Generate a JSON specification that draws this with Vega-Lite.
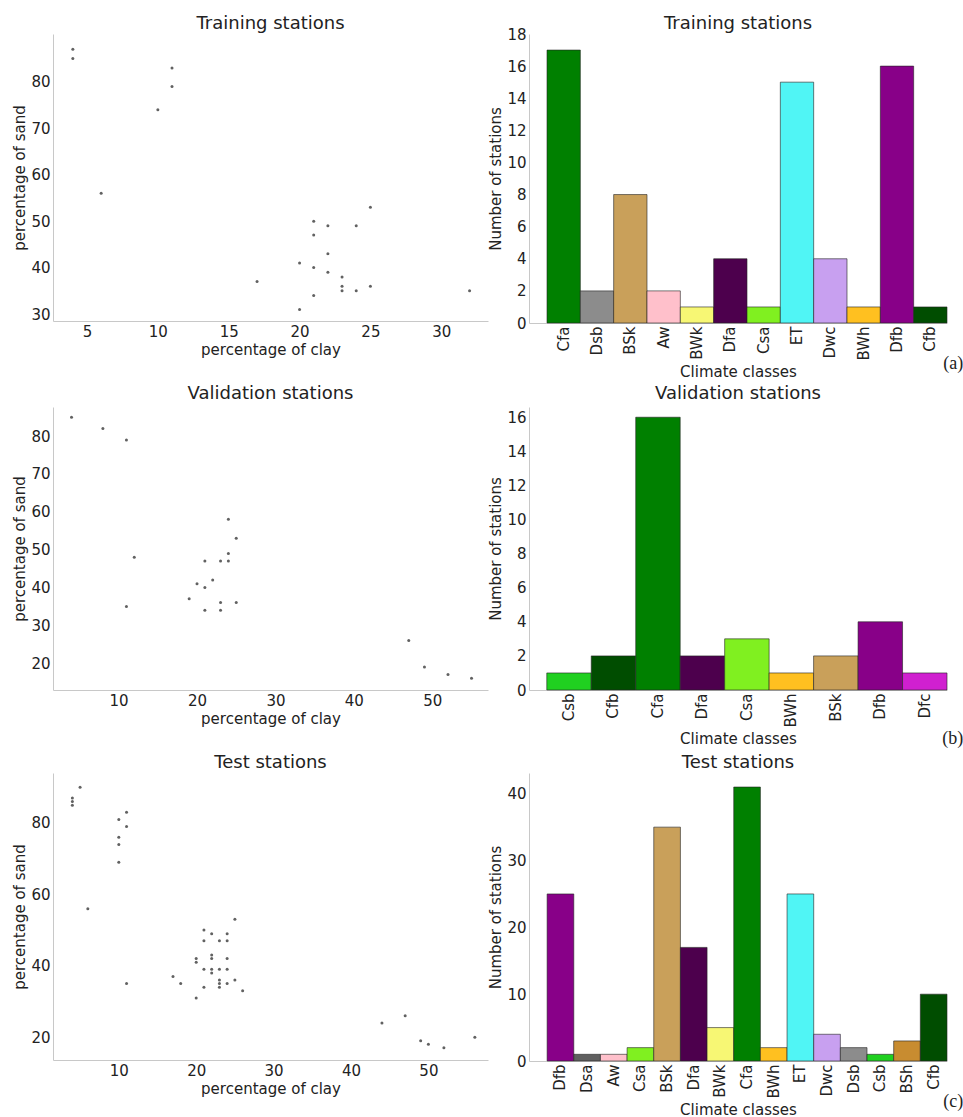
{
  "$schema": "https://vega.github.io/schema/vega-lite/v6.json",
  "background": "white",
  "padding": {"left": 12, "top": 15, "right": 5, "bottom": 0},
  "config": {
    "font": "DejaVu Sans",
    "view": {"stroke": null},
    "axis": {"domainColor": "#c8c8c8", "ticks": false, "grid": false, "labelFontSize": 15, "titleFontSize": 15, "titleFontWeight": "normal", "labelColor": "#222222", "titleColor": "#222222", "labelFont": "DejaVu Sans", "titleFont": "DejaVu Sans", "labelPadding": 3, "titlePadding": 3},
    "title": {"fontSize": 18, "fontWeight": "normal", "font": "DejaVu Sans", "color": "#222222", "offset": 5}
  },
  "datasets": {
    "train_pts": [
      {"clay": 4, "sand": 87}, {"clay": 4, "sand": 85}, {"clay": 11, "sand": 83}, {"clay": 11, "sand": 79}, {"clay": 10, "sand": 74},
      {"clay": 6, "sand": 56}, {"clay": 25, "sand": 53}, {"clay": 21, "sand": 50}, {"clay": 22, "sand": 49}, {"clay": 24, "sand": 49},
      {"clay": 21, "sand": 47}, {"clay": 22, "sand": 43}, {"clay": 20, "sand": 41}, {"clay": 21, "sand": 40}, {"clay": 22, "sand": 39},
      {"clay": 23, "sand": 38}, {"clay": 17, "sand": 37}, {"clay": 23, "sand": 36}, {"clay": 23, "sand": 35}, {"clay": 24, "sand": 35},
      {"clay": 25, "sand": 36}, {"clay": 32, "sand": 35}, {"clay": 21, "sand": 34}, {"clay": 20, "sand": 31}
    ],
    "val_pts": [
      {"clay": 4, "sand": 85}, {"clay": 8, "sand": 82}, {"clay": 11, "sand": 79}, {"clay": 12, "sand": 48}, {"clay": 11, "sand": 35},
      {"clay": 24, "sand": 58}, {"clay": 25, "sand": 53}, {"clay": 24, "sand": 49}, {"clay": 21, "sand": 47}, {"clay": 23, "sand": 47},
      {"clay": 24, "sand": 47}, {"clay": 22, "sand": 42}, {"clay": 20, "sand": 41}, {"clay": 21, "sand": 40}, {"clay": 19, "sand": 37},
      {"clay": 23, "sand": 36}, {"clay": 25, "sand": 36}, {"clay": 21, "sand": 34}, {"clay": 23, "sand": 34}, {"clay": 47, "sand": 26},
      {"clay": 49, "sand": 19}, {"clay": 52, "sand": 17}, {"clay": 55, "sand": 16}
    ],
    "test_pts": [
      {"clay": 5, "sand": 90}, {"clay": 4, "sand": 87}, {"clay": 4, "sand": 86}, {"clay": 4, "sand": 85}, {"clay": 11, "sand": 83},
      {"clay": 10, "sand": 81}, {"clay": 11, "sand": 79}, {"clay": 10, "sand": 76}, {"clay": 10, "sand": 74}, {"clay": 10, "sand": 69},
      {"clay": 6, "sand": 56}, {"clay": 11, "sand": 35}, {"clay": 25, "sand": 53}, {"clay": 21, "sand": 50}, {"clay": 22, "sand": 49},
      {"clay": 24, "sand": 49}, {"clay": 21, "sand": 47}, {"clay": 23, "sand": 47}, {"clay": 24, "sand": 47}, {"clay": 20, "sand": 42},
      {"clay": 20, "sand": 41}, {"clay": 22, "sand": 43}, {"clay": 22, "sand": 42}, {"clay": 24, "sand": 42}, {"clay": 21, "sand": 39},
      {"clay": 22, "sand": 39}, {"clay": 22, "sand": 38}, {"clay": 23, "sand": 39}, {"clay": 24, "sand": 39}, {"clay": 17, "sand": 37},
      {"clay": 18, "sand": 35}, {"clay": 23, "sand": 36}, {"clay": 23, "sand": 35}, {"clay": 25, "sand": 36}, {"clay": 24, "sand": 35},
      {"clay": 21, "sand": 34}, {"clay": 23, "sand": 34}, {"clay": 26, "sand": 33}, {"clay": 20, "sand": 31}, {"clay": 44, "sand": 24},
      {"clay": 47, "sand": 26}, {"clay": 49, "sand": 19}, {"clay": 50, "sand": 18}, {"clay": 52, "sand": 17}, {"clay": 56, "sand": 20}
    ],
    "train_bars": [
      {"cls": "Cfa", "n": 17}, {"cls": "Dsb", "n": 2}, {"cls": "BSk", "n": 8}, {"cls": "Aw", "n": 2}, {"cls": "BWk", "n": 1}, {"cls": "Dfa", "n": 4},
      {"cls": "Csa", "n": 1}, {"cls": "ET", "n": 15}, {"cls": "Dwc", "n": 4}, {"cls": "BWh", "n": 1}, {"cls": "Dfb", "n": 16}, {"cls": "Cfb", "n": 1}
    ],
    "val_bars": [
      {"cls": "Csb", "n": 1}, {"cls": "Cfb", "n": 2}, {"cls": "Cfa", "n": 16}, {"cls": "Dfa", "n": 2}, {"cls": "Csa", "n": 3},
      {"cls": "BWh", "n": 1}, {"cls": "BSk", "n": 2}, {"cls": "Dfb", "n": 4}, {"cls": "Dfc", "n": 1}
    ],
    "test_bars": [
      {"cls": "Dfb", "n": 25}, {"cls": "Dsa", "n": 1}, {"cls": "Aw", "n": 1}, {"cls": "Csa", "n": 2}, {"cls": "BSk", "n": 35},
      {"cls": "Dfa", "n": 17}, {"cls": "BWk", "n": 5}, {"cls": "Cfa", "n": 41}, {"cls": "BWh", "n": 2}, {"cls": "ET", "n": 25},
      {"cls": "Dwc", "n": 4}, {"cls": "Dsb", "n": 2}, {"cls": "Csb", "n": 1}, {"cls": "BSh", "n": 3}, {"cls": "Cfb", "n": 10}
    ]
  },
  "spacing": 5,
  "vconcat": [
    {
      "spacing": 0,
      "title": {"text": "(a)", "orient": "bottom", "anchor": "end", "font": "Liberation Serif", "fontSize": 18, "offset": -24, "dx": 16},
      "hconcat": [
        {
          "title": {"text": "Training stations", "offset": 1}, "width": 435, "height": 287,
          "data": {"name": "train_pts"},
          "mark": {"type": "point", "filled": true, "size": 9, "color": "#505050", "opacity": 0.9},
          "encoding": {
            "x": {"field": "clay", "type": "quantitative", "scale": {"domain": [2.6, 33.3], "nice": false, "zero": false}, "axis": {"title": "percentage of clay", "values": [5, 10, 15, 20, 25, 30]}},
            "y": {"field": "sand", "type": "quantitative", "scale": {"domain": [28.5, 90.3], "nice": false, "zero": false}, "axis": {"title": "percentage of sand", "values": [30, 40, 50, 60, 70, 80]}}
          }
        },
        {
          "title": {"text": "Training stations", "offset": -6}, "width": 418, "height": 289,
          "data": {"name": "train_bars"},
          "mark": {"type": "bar", "stroke": "#222222", "strokeWidth": 0.6},
          "encoding": {
            "x": {"field": "cls", "type": "nominal", "sort": null, "scale": {"paddingInner": 0, "paddingOuter": 0.27, "align": 1}, "axis": {"title": "Climate classes", "labelAngle": -90, "titlePadding": 4}},
            "y": {"field": "n", "type": "quantitative", "scale": {"domain": [0, 18], "nice": false}, "axis": {"title": "Number of stations", "values": [0, 2, 4, 6, 8, 10, 12, 14, 16, 18]}},
            "color": {"field": "cls", "type": "nominal", "legend": null, "scale": {
              "domain": ["Cfa", "Dsb", "BSk", "Aw", "BWk", "Dfa", "Csa", "ET", "Dwc", "BWh", "Dfb", "Cfb", "Csb", "Dfc", "Dsa", "BSh"],
              "range": ["#008000", "#8c8c8c", "#c9a05a", "#ffc0cb", "#f7f774", "#4d004d", "#80f020", "#50f5f5", "#c8a0f0", "#ffc020", "#880088", "#004d00", "#20d020", "#d020d0", "#606060", "#c88c30"]}}
          }
        }
      ]
    },
    {
      "spacing": 0,
      "title": {"text": "(b)", "orient": "bottom", "anchor": "end", "font": "Liberation Serif", "fontSize": 18, "offset": -16, "dx": 16},
      "hconcat": [
        {
          "title": {"text": "Validation stations", "offset": 4}, "width": 435, "height": 283,
          "data": {"name": "val_pts"},
          "mark": {"type": "point", "filled": true, "size": 9, "color": "#505050", "opacity": 0.9},
          "encoding": {
            "x": {"field": "clay", "type": "quantitative", "scale": {"domain": [1.64, 57.1], "nice": false, "zero": false}, "axis": {"title": "percentage of clay", "values": [10, 20, 30, 40, 50]}},
            "y": {"field": "sand", "type": "quantitative", "scale": {"domain": [12.9, 87.7], "nice": false, "zero": false}, "axis": {"title": "percentage of sand", "values": [20, 30, 40, 50, 60, 70, 80]}}
          }
        },
        {
          "title": {"text": "Validation stations", "offset": 4}, "width": 418, "height": 283,
          "data": {"name": "val_bars"},
          "mark": {"type": "bar", "stroke": "#222222", "strokeWidth": 0.6},
          "encoding": {
            "x": {"field": "cls", "type": "nominal", "sort": null, "scale": {"paddingInner": 0, "paddingOuter": 0.2, "align": 1}, "axis": {"title": "Climate classes", "labelAngle": -90, "titlePadding": 4}},
            "y": {"field": "n", "type": "quantitative", "scale": {"domain": [0, 16.6], "nice": false}, "axis": {"title": "Number of stations", "values": [0, 2, 4, 6, 8, 10, 12, 14, 16]}},
            "color": {"field": "cls", "type": "nominal", "legend": null}
          }
        }
      ]
    },
    {
      "spacing": 0,
      "title": {"text": "(c)", "orient": "bottom", "anchor": "end", "font": "Liberation Serif", "fontSize": 18, "offset": -24, "dx": 16},
      "hconcat": [
        {
          "title": {"text": "Test stations", "offset": 1}, "width": 435, "height": 287,
          "data": {"name": "test_pts"},
          "mark": {"type": "point", "filled": true, "size": 9, "color": "#505050", "opacity": 0.9},
          "encoding": {
            "x": {"field": "clay", "type": "quantitative", "scale": {"domain": [1.5, 57.7], "nice": false, "zero": false}, "axis": {"title": "percentage of clay", "values": [10, 20, 30, 40, 50]}},
            "y": {"field": "sand", "type": "quantitative", "scale": {"domain": [13.6, 94], "nice": false, "zero": false}, "axis": {"title": "percentage of sand", "values": [20, 40, 60, 80]}}
          }
        },
        {
          "title": {"text": "Test stations", "offset": 1}, "width": 418, "height": 288,
          "data": {"name": "test_bars"},
          "mark": {"type": "bar", "stroke": "#222222", "strokeWidth": 0.6},
          "encoding": {
            "x": {"field": "cls", "type": "nominal", "sort": null, "scale": {"paddingInner": 0, "paddingOuter": 0.34, "align": 1}, "axis": {"title": "Climate classes", "labelAngle": -90, "titlePadding": 4}},
            "y": {"field": "n", "type": "quantitative", "scale": {"domain": [0, 43.1], "nice": false}, "axis": {"title": "Number of stations", "values": [0, 10, 20, 30, 40]}},
            "color": {"field": "cls", "type": "nominal", "legend": null}
          }
        }
      ]
    }
  ]
}
